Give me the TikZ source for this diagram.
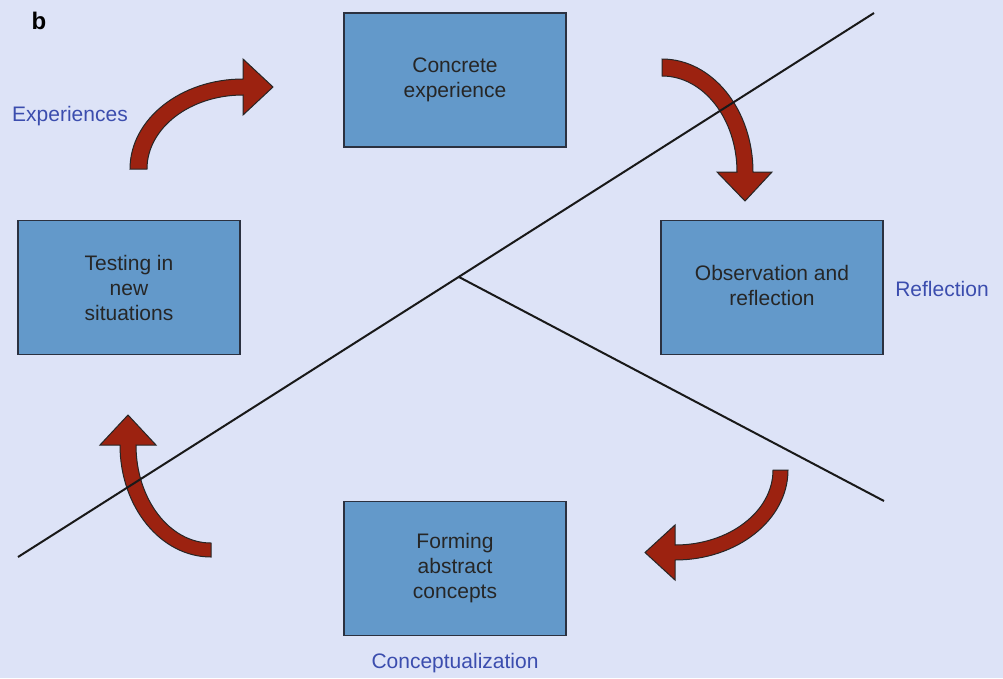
\documentclass[tikz,border=0pt]{standalone}
\usepackage{fontspec}
\setmainfont{Liberation Sans}
\begin{document}
\definecolor{bgcol}{HTML}{DDE3F7}
\definecolor{boxcol}{HTML}{6399CA}
\definecolor{arrowcol}{HTML}{9C2210}
\definecolor{labelcol}{HTML}{3B4DAE}
\definecolor{edgecol}{HTML}{2B3140}
\begin{tikzpicture}[x=1pt,y=-1pt,
  stagebox/.style={draw=edgecol,line width=1.4pt,fill=boxcol,
    minimum width=222pt,minimum height=134pt,align=center,
    font=\fontsize{21}{25}\selectfont,text=black!85},
  phase/.style={text=labelcol,font=\fontsize{21}{25}\selectfont},
  cyclearrow/.style={fill=arrowcol,draw=black!85,line width=1pt,line join=miter},
  divider/.style={draw=black!90,line width=2pt}]
\fill[bgcol] (0,0) rectangle (1003,678);
\useasboundingbox (0,0) rectangle (1003,678);

% stages of the cycle
\node[stagebox] (ce) at (455,80) {Concrete\\experience};
\node[stagebox] (or) at (772,287.5) {\raisebox{0pt}[\height][\depth]{Observation and}\\reflection\vphantom{g}\rule{0pt}{0pt}};
\node[stagebox] (fa) at (455,568.5) {Forming\\abstract\\concepts};
\node[stagebox] (tn) at (129,287.5) {Testing in\\new\\situations};

% phase labels
\node[font=\fontsize{24}{28}\bfseries\selectfont] (lab) at (39,21) {b};
\node[phase] (lexp) at (70,116) {Experiences};
\node[phase] (lref) at (942,289) {Reflection};
\node[phase] (lcon) at (455,663) {Conceptualization};

% curved block arrows between the stages
\path[cyclearrow] (130,169) arc[start angle=180,end angle=270,x radius=113,y radius=90]
  -- (243,59) -- (273,87) -- (243,115) -- (243,95)
  arc[start angle=270,end angle=180,x radius=96,y radius=74] -- cycle;
\path[cyclearrow] (662,59) arc[start angle=270,end angle=360,x radius=91,y radius=113]
  -- (772,172) -- (745,201) -- (717,172) -- (737,172)
  arc[start angle=360,end angle=270,x radius=75,y radius=96] -- cycle;
\path[cyclearrow] (788,470) arc[start angle=0,end angle=90,x radius=113,y radius=90]
  -- (675,580) -- (645,552.5) -- (675,525) -- (675,545)
  arc[start angle=90,end angle=0,x radius=98,y radius=75] -- cycle;
\path[cyclearrow] (211,557) arc[start angle=90,end angle=180,x radius=91,y radius=112]
  -- (100,445) -- (128,415) -- (156,445) -- (136,445)
  arc[start angle=180,end angle=90,x radius=75,y radius=98] -- cycle;

% dividing axes
\coordinate (a1) at (18,557);
\coordinate (a2) at (874,13);
\coordinate (b1) at (459,277);
\coordinate (b2) at (884,501);
\draw[divider] (a1) -- (a2);
\draw[divider] (b1) -- (b2);
\end{tikzpicture}
\end{document}
